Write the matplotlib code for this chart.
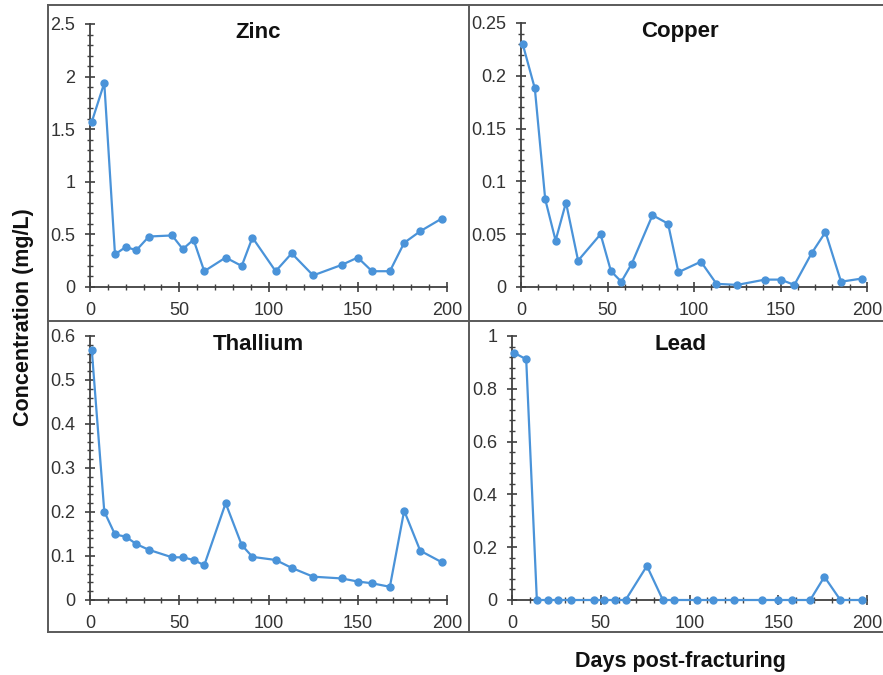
import numpy as np
import matplotlib
matplotlib.use('Agg')
import matplotlib.pyplot as plt
from matplotlib.lines import Line2D
from matplotlib.ticker import MultipleLocator, FuncFormatter

plt.rcParams['font.family'] = ['Liberation Sans', 'DejaVu Sans']

# sampling days (same for all metals)
days = [1, 8, 14, 20, 26, 33, 46, 52, 58, 64, 76, 85, 91, 104, 113, 125,
        141, 150, 158, 168, 176, 185, 197]

zinc = [1.57, 1.94, 0.31, 0.38, 0.35, 0.48, 0.49, 0.36, 0.45, 0.15, 0.28, 0.20,
        0.47, 0.15, 0.32, 0.11, 0.21, 0.28, 0.15, 0.15, 0.42, 0.53, 0.65]
copper = [0.230, 0.188, 0.083, 0.044, 0.080, 0.025, 0.050, 0.015, 0.005, 0.022,
          0.068, 0.060, 0.014, 0.024, 0.003, 0.002, 0.007, 0.007, 0.002, 0.032,
          0.052, 0.005, 0.008]
thallium = [0.568, 0.201, 0.149, 0.144, 0.127, 0.114, 0.097, 0.097, 0.091, 0.079,
            0.220, 0.125, 0.098, 0.091, 0.073, 0.053, 0.049, 0.042, 0.038, 0.030,
            0.203, 0.112, 0.086]
lead = [0.937, 0.912, 0, 0, 0, 0, 0, 0, 0, 0, 0.129, 0, 0, 0, 0, 0, 0, 0, 0, 0,
        0.088, 0, 0]

panels = [
    ('Zinc', zinc, 2.5, 0.5),
    ('Copper', copper, 0.25, 0.05),
    ('Thallium', thallium, 0.6, 0.1),
    ('Lead', lead, 1.0, 0.2),
]

W, H = 883, 675
fig = plt.figure(figsize=(W / 100, H / 100), dpi=100)

# axes rectangles in pixels: left, right, bottom(y of 0), top(y of max)
rects = [(90, 447, 287, 24), (521, 867, 287, 23),
         (90, 447, 600, 336), (512, 867, 600, 336)]
title_pos = [(258, 32), (680, 32), (258, 345), (681, 345)]

blue = '#4A93D9'
axc = '#404040'

for (name, vals, ymax, step), (x0, x1, yb, yt), (tx, ty) in zip(panels, rects, title_pos):
    ax = fig.add_axes([x0 / W, 1 - yb / H, (x1 - x0) / W, (yb - yt) / H])
    ax.plot(days, vals, '-o', color=blue, lw=1.6, ms=5, clip_on=False, zorder=3)
    ax.set_xlim(0, 200)
    ax.set_ylim(0, ymax)
    ax.xaxis.set_major_locator(MultipleLocator(50))
    ax.xaxis.set_minor_locator(MultipleLocator(10))
    ax.yaxis.set_major_locator(MultipleLocator(step))
    ax.yaxis.set_minor_locator(MultipleLocator(step / 5))
    ax.yaxis.set_major_formatter(FuncFormatter(lambda v, p: '{:g}'.format(round(v, 4))))
    for s in ['top', 'right']:
        ax.spines[s].set_visible(False)
    for s in ['left', 'bottom']:
        ax.spines[s].set_color(axc)
        ax.spines[s].set_linewidth(1.3)
    ax.tick_params(which='major', direction='inout', length=7, width=1.2,
                   color=axc, labelsize=13, labelcolor='#333333', pad=7)
    ax.tick_params(which='minor', direction='inout', length=4, width=1.0, color=axc)
    ax.patch.set_alpha(0)
    fig.text(tx / W, 1 - ty / H, name, ha='center', va='center',
             fontsize=16, fontweight='bold', color='#111111')

# panel frame lines
lc = '#5a5a5a'
def hline(y, xa, xb):
    fig.add_artist(Line2D([xa / W, xb / W], [1 - y / H, 1 - y / H], color=lc, lw=1.4))
def vline(x, ya, yb):
    fig.add_artist(Line2D([x / W, x / W], [1 - ya / H, 1 - yb / H], color=lc, lw=1.4))

hline(5, 48, W)
hline(321, 48, W)
hline(632, 48, W)
vline(48, 5, 632)
vline(469, 5, 632)

fig.text(24 / W, 1 - 317 / H, 'Concentration (mg/L)', rotation=90, ha='center',
         va='center', fontsize=15.5, fontweight='bold', color='#111111')
fig.text(680 / W, 1 - 661 / H, 'Days post-fracturing', ha='center', va='center',
         fontsize=15.5, fontweight='bold', color='#111111')

fig.savefig('out.png', dpi=100)
